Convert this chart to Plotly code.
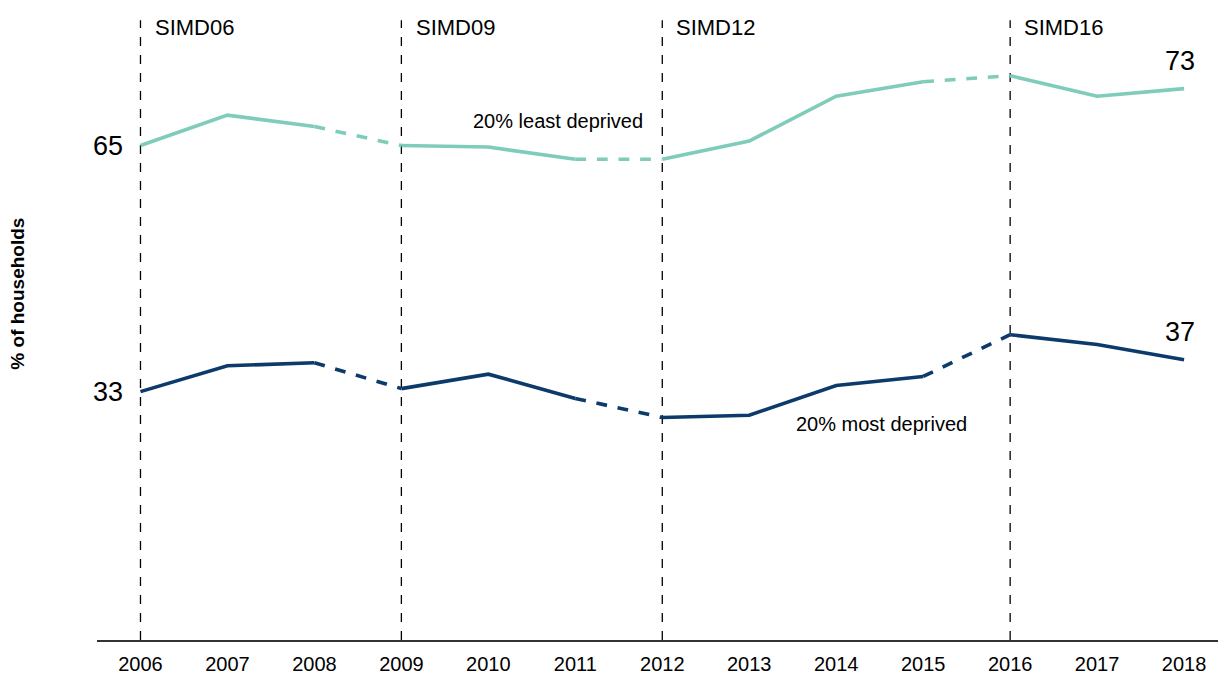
import plotly.graph_objects as go

# ---- data
years = list(range(2006, 2019))
least_deprived = [65.1, 69.1, 67.6, 65.1, 64.9, 63.3, 63.3, 65.7, 71.6, 73.5, 74.3, 71.6, 72.6]
most_deprived = [32.7, 36.1, 36.5, 33.1, 35.0, 31.8, 29.3, 29.6, 33.5, 34.7, 40.2, 38.9, 36.9]

simd_years = [2006, 2009, 2012, 2016]
simd_labels = ["SIMD06", "SIMD09", "SIMD12", "SIMD16"]

# series breaks: dashed link across each SIMD change
solid_runs = [(0, 2), (3, 5), (6, 9), (10, 12)]
dashed_runs = [(2, 3), (5, 6), (9, 10)]

LIGHT = "#7fccba"
DARK = "#0b3a6b"
FONT = "Liberation Sans, Arial, sans-serif"

fig = go.Figure()

for vals, col in [(least_deprived, LIGHT), (most_deprived, DARK)]:
    for a, b in solid_runs:
        fig.add_trace(go.Scatter(x=years[a:b + 1], y=vals[a:b + 1], mode="lines",
                                 line=dict(color=col, width=3.6), hoverinfo="skip"))
    for a, b in dashed_runs:
        fig.add_trace(go.Scatter(x=years[a:b + 1], y=vals[a:b + 1], mode="lines",
                                 line=dict(color=col, width=3.6, dash="dash"), hoverinfo="skip"))

# SIMD vertical markers
for yr, lab in zip(simd_years, simd_labels):
    fig.add_shape(type="line", x0=yr, x1=yr, y0=0, y1=81.6, xref="x", yref="y",
                  line=dict(color="black", width=1.3, dash="dash"), layer="below")
    fig.add_annotation(x=yr + 0.14, y=80.6, text=lab, showarrow=False,
                       xanchor="left", yanchor="middle", font=dict(size=22, color="black"))

# end / start value labels
fig.add_annotation(x=years[0] - 0.18, y=least_deprived[0], text=f"{round(least_deprived[0])}",
                   showarrow=False, xanchor="right", yanchor="middle", font=dict(size=27))
fig.add_annotation(x=years[0] - 0.18, y=most_deprived[0], text=f"{round(most_deprived[0])}",
                   showarrow=False, xanchor="right", yanchor="middle", font=dict(size=27))
fig.add_annotation(x=years[-1] + 0.15, y=least_deprived[-1] + 1.4, text=f"{round(least_deprived[-1])}",
                   showarrow=False, xanchor="right", yanchor="bottom", font=dict(size=27))
fig.add_annotation(x=years[-1] + 0.15, y=most_deprived[-1] + 1.4, text=f"{round(most_deprived[-1])}",
                   showarrow=False, xanchor="right", yanchor="bottom", font=dict(size=27))

# series names
fig.add_annotation(x=2010.8, y=68.3, text="20% least deprived", showarrow=False,
                   font=dict(size=20))
fig.add_annotation(x=2014.52, y=28.4, text="20% most deprived", showarrow=False,
                   font=dict(size=20))

# y title
fig.add_annotation(xref="paper", x=-0.0705, y=45.6, text="<b>% of households</b>",
                   textangle=-90, showarrow=False, xanchor="center", font=dict(size=19))

fig.update_layout(
    width=1218, height=675,
    margin=dict(l=97, r=0, t=2, b=35),
    paper_bgcolor="white", plot_bgcolor="white",
    showlegend=False,
    font=dict(family=FONT, color="black"),
    xaxis=dict(range=[2005.5, 2018.39], tickmode="array", tickvals=years,
               ticktext=[str(y) for y in years], showgrid=False, zeroline=False,
               showline=True, linecolor="#333333", linewidth=1.5, ticks="",
               tickfont=dict(size=20), ticklabelstandoff=5),
    yaxis=dict(range=[0, 84], showgrid=False, zeroline=False, showticklabels=False,
               showline=False),
)

fig.write_html("out.html", config={"displayModeBar": False},
               post_script="document.body.style.margin='0';")
